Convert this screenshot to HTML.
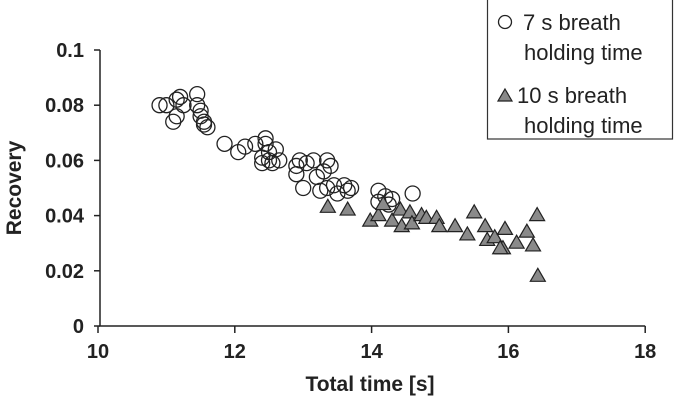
<!DOCTYPE html>
<html><head><meta charset="utf-8"><style>
html,body{margin:0;padding:0;background:#fff}
svg{display:block;font-family:"Liberation Sans",Arial,sans-serif}
</style></head><body>
<svg id="chart" width="675" height="409" viewBox="0 0 675 409">
<g id="axes"></g>
<g id="marks"></g>
<text x="370" y="391" text-anchor="middle" font-size="21" font-weight="bold" fill="#222">Total time [s]</text>
<text transform="translate(21,188) rotate(-90)" text-anchor="middle" font-size="21" font-weight="bold" fill="#222">Recovery</text>
<g>
<rect x="487.5" y="-1" width="185" height="140" fill="#fff" stroke="#333" stroke-width="1.2"/>
<circle cx="505" cy="22" r="6.5" fill="#fff" stroke="#222" stroke-width="1.3"/>
<text x="523" y="30" font-size="22" fill="#222">7 s breath</text>
<text x="524" y="60" font-size="22" fill="#222">holding time</text>
<polygon points="505,89 512,101 498,101" fill="#888" stroke="#222" stroke-width="1.2"/>
<text x="517" y="103" font-size="22" fill="#222">10 s breath</text>
<text x="524" y="133" font-size="22" fill="#222">holding time</text>
</g>
</svg>
<script>
const xTicks=[10,12,14,16,18];
const yTicks=[0,0.02,0.04,0.06,0.08,0.1];
const yTickLabels=["0","0.02","0.04","0.06","0.08","0.1"];
const circX=[10.9,11.0,11.1,11.15,11.15,11.2,11.25,11.45,11.45,11.5,11.5,11.55,11.6,11.55,11.85,12.05,12.15,12.3,12.45,12.45,12.4,12.5,12.5,12.55,12.6,12.65,12.4,12.9,12.9,12.95,13.0,13.05,13.15,13.2,13.25,13.35,13.3,13.4,13.35,13.45,13.5,13.6,13.65,13.7,14.1,14.1,14.2,14.3,14.25,14.6];
const circY=[0.080,0.080,0.074,0.076,0.082,0.083,0.080,0.084,0.080,0.078,0.076,0.073,0.072,0.074,0.066,0.063,0.065,0.066,0.068,0.066,0.059,0.060,0.063,0.059,0.064,0.060,0.061,0.058,0.055,0.060,0.050,0.059,0.060,0.054,0.049,0.060,0.056,0.058,0.050,0.051,0.048,0.051,0.049,0.050,0.049,0.045,0.047,0.046,0.044,0.048];
const triX=[13.36,13.65,13.98,14.1,14.17,14.3,14.42,14.44,14.56,14.59,14.73,14.8,14.95,14.99,15.22,15.4,15.5,15.66,15.69,15.8,15.95,15.92,15.88,16.12,16.27,16.36,16.42,16.43];
const triY=[0.043,0.042,0.038,0.040,0.044,0.038,0.042,0.036,0.041,0.037,0.040,0.039,0.039,0.036,0.036,0.033,0.041,0.036,0.031,0.032,0.035,0.028,0.028,0.030,0.034,0.029,0.040,0.018];
const NS="http://www.w3.org/2000/svg";
const X=v=>98+(v-10)*68.4;
const Y=v=>326-v*2760;
const axes=document.getElementById('axes'),marks=document.getElementById('marks');
function mk(t,a,p){const e=document.createElementNS(NS,t);for(const k in a)e.setAttribute(k,a[k]);p.appendChild(e);return e;}
let l=mk('line',{x1:100,y1:Y(0.1),x2:100,y2:326,stroke:'#222','stroke-width':1.5},axes);


l=mk('line',{x1:99,y1:326,x2:X(18),y2:326,stroke:'#222','stroke-width':1.5},axes);


yTicks.forEach((v,i)=>{
 const t=mk('line',{x1:94,y1:Y(v),x2:100,y2:Y(v),stroke:'#222','stroke-width':1.5},axes);
 
 
 const s=mk('text',{x:84,y:Y(v)+7,'text-anchor':'end','font-size':20,'font-weight':'bold',fill:'#222'},axes);
 s.textContent=yTickLabels[i];
 
 
});
xTicks.forEach(v=>{
 const t=mk('line',{x1:X(v),y1:326,x2:X(v),y2:333,stroke:'#222','stroke-width':1.5},axes);
 
 
 const s=mk('text',{x:X(v),y:358,'text-anchor':'middle','font-size':20,'font-weight':'bold',fill:'#222'},axes);
 s.textContent=String(v);
 
 
});
circX.forEach((x,i)=>{
 const c=mk('circle',{cx:X(x),cy:Y(circY[i]),r:7.5,fill:'none',stroke:'#222','stroke-width':1.3},marks);
 
 
});
triX.forEach((x,i)=>{
 const cx=X(x),cy=Y(triY[i]);
 const p=mk('polygon',{points:`${cx},${cy-8} ${cx+7.5},${cy+5} ${cx-7.5},${cy+5}`,fill:'#8a8a8a',stroke:'#222','stroke-width':1.2},marks);
 
 
});
</script>
</body></html>
